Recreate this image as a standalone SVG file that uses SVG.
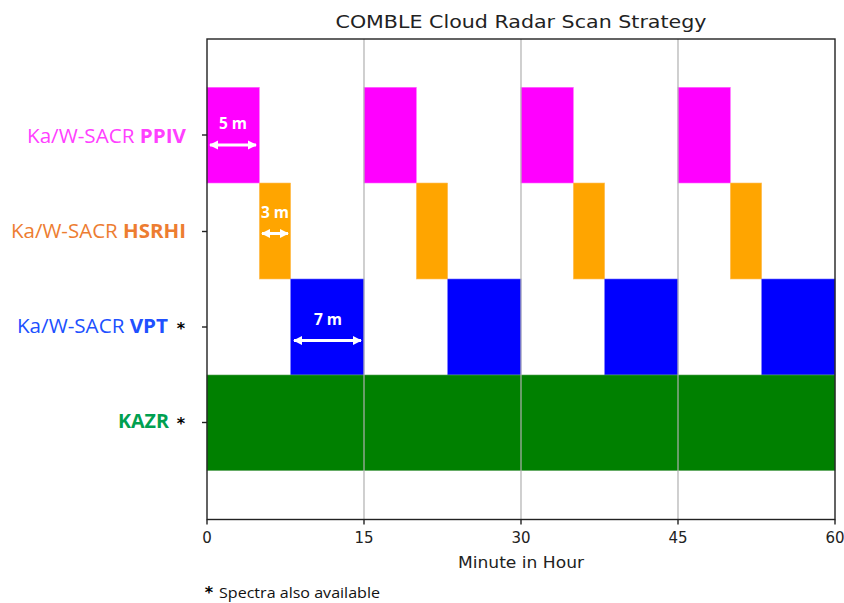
<svg xmlns="http://www.w3.org/2000/svg" width="844" height="603" viewBox="0 0 844 603">
<defs>
<style>
.lbl{font-family:"Open Sans","Liberation Sans",sans-serif;font-size:20px}
.b{font-weight:bold}
.tick{font-family:"DejaVu Sans",sans-serif;font-size:15px;fill:#222;text-anchor:middle}
.dim{font-family:"Open Sans","Liberation Sans",sans-serif;font-size:15.5px;font-weight:bold;fill:#fff;text-anchor:middle}
.arr{stroke:#fff;stroke-width:3;fill:none;marker-start:url(#ah);marker-end:url(#ah)}
.grid{stroke:#b0b0b0;stroke-width:1.2}
.star{font-family:"DejaVu Sans",sans-serif;font-size:16px;font-weight:bold;fill:#000}
.ppiv{fill:#ff00ff;stroke:#ff66ff;stroke-width:0.6}
.hsrhi{fill:#ffa500;stroke:#ffc060;stroke-width:0.6}
.vpt{fill:#0000ff;stroke:#6666ff;stroke-width:0.6}
.kazr{fill:#008000;stroke:#55a055;stroke-width:0.6}
</style>
<marker id="ah" viewBox="0 0 10 10" refX="9" refY="5" markerWidth="3" markerHeight="3.4" orient="auto-start-reverse" markerUnits="strokeWidth">
<path d="M0,0 L10,5 L0,10 Z" fill="#fff"/>
</marker>
</defs>
<rect width="844" height="603" fill="#fff"/>
<text x="521" y="28" font-family="DejaVu Sans, sans-serif" font-size="17.5" fill="#222" text-anchor="middle" textLength="371" lengthAdjust="spacingAndGlyphs">COMBLE Cloud Radar Scan Strategy</text>

<g id="bars-ppiv">
<rect class="ppiv" x="207" y="87.3" width="52.3" height="95.7"/>
<rect class="ppiv" x="364" y="87.3" width="52.3" height="95.7"/>
<rect class="ppiv" x="521" y="87.3" width="52.3" height="95.7"/>
<rect class="ppiv" x="678" y="87.3" width="52.3" height="95.7"/>
</g>
<g id="bars-hsrhi">
<rect class="hsrhi" x="259.3" y="183" width="31.4" height="96"/>
<rect class="hsrhi" x="416.3" y="183" width="31.4" height="96"/>
<rect class="hsrhi" x="573.3" y="183" width="31.4" height="96"/>
<rect class="hsrhi" x="730.3" y="183" width="31.4" height="96"/>
</g>
<g id="bars-vpt">
<rect class="vpt" x="290.7" y="279" width="73.3" height="96"/>
<rect class="vpt" x="447.7" y="279" width="73.3" height="96"/>
<rect class="vpt" x="604.7" y="279" width="73.3" height="96"/>
<rect class="vpt" x="761.7" y="279" width="73.3" height="96"/>
</g>
<g id="bars-kazr">
<rect class="kazr" x="207" y="375" width="628" height="95.5"/>
</g>

<g id="grid">
<line class="grid" x1="364" y1="39" x2="364" y2="519.5"/>
<line class="grid" x1="521" y1="39" x2="521" y2="519.5"/>
<line class="grid" x1="678" y1="39" x2="678" y2="519.5"/>
</g>

<g id="axes" stroke="#222" stroke-width="1.4" fill="none">
<rect x="207" y="39" width="628" height="480.5"/>
<line x1="202" y1="135" x2="207" y2="135"/>
<line x1="202" y1="231.5" x2="207" y2="231.5"/>
<line x1="202" y1="327" x2="207" y2="327"/>
<line x1="202" y1="422.5" x2="207" y2="422.5"/>
<line x1="207" y1="519.5" x2="207" y2="524.5"/>
<line x1="364" y1="519.5" x2="364" y2="524.5"/>
<line x1="521" y1="519.5" x2="521" y2="524.5"/>
<line x1="678" y1="519.5" x2="678" y2="524.5"/>
<line x1="835" y1="519.5" x2="835" y2="524.5"/>
</g>

<g id="xticks">
<text class="tick" x="207" y="543">0</text>
<text class="tick" x="364" y="543">15</text>
<text class="tick" x="521" y="543">30</text>
<text class="tick" x="678" y="543">45</text>
<text class="tick" x="835" y="543">60</text>
<text class="tick" x="521" y="568" textLength="126" lengthAdjust="spacingAndGlyphs">Minute in Hour</text>
</g>

<g id="label-ppiv">
<text class="lbl" x="186" y="143" text-anchor="end" fill="#ff40ff" textLength="159" lengthAdjust="spacingAndGlyphs">Ka/W-SACR <tspan class="b">PPIV</tspan></text>
</g>
<g id="label-hsrhi">
<text class="lbl" x="186" y="238" text-anchor="end" fill="#ed7d31" textLength="175" lengthAdjust="spacingAndGlyphs">Ka/W-SACR <tspan class="b">HSRHI</tspan></text>
</g>
<g id="label-vpt">
<text class="lbl" x="168" y="333" text-anchor="end" fill="#2050ff" textLength="151" lengthAdjust="spacingAndGlyphs">Ka/W-SACR <tspan class="b">VPT</tspan></text>
<text class="star" x="181" y="334" text-anchor="middle">*</text>
</g>
<g id="label-kazr">
<text class="lbl b" x="169" y="428" text-anchor="end" fill="#00a050" textLength="51" lengthAdjust="spacingAndGlyphs">KAZR</text>
<text class="star" x="181" y="429" text-anchor="middle">*</text>
</g>

<g id="connectors">
<line class="arr" x1="210" y1="145" x2="256" y2="145"/>
<line class="arr" x1="262" y1="233.5" x2="288" y2="233.5"/>
<line class="arr" x1="294" y1="340.5" x2="361" y2="340.5"/>
</g>
<g id="dim-labels">
<text class="dim" x="233" y="129">5 m</text>
<text class="dim" x="275" y="218">3 m</text>
<text class="dim" x="328" y="325">7 m</text>
</g>

<g id="footnote">
<text class="star" x="209" y="598" text-anchor="middle" font-size="18">*</text>
<text x="219" y="598" font-family="Open Sans, Liberation Sans, sans-serif" font-size="14.5" fill="#111" textLength="161" lengthAdjust="spacingAndGlyphs">Spectra also available</text>
</g>
</svg>
